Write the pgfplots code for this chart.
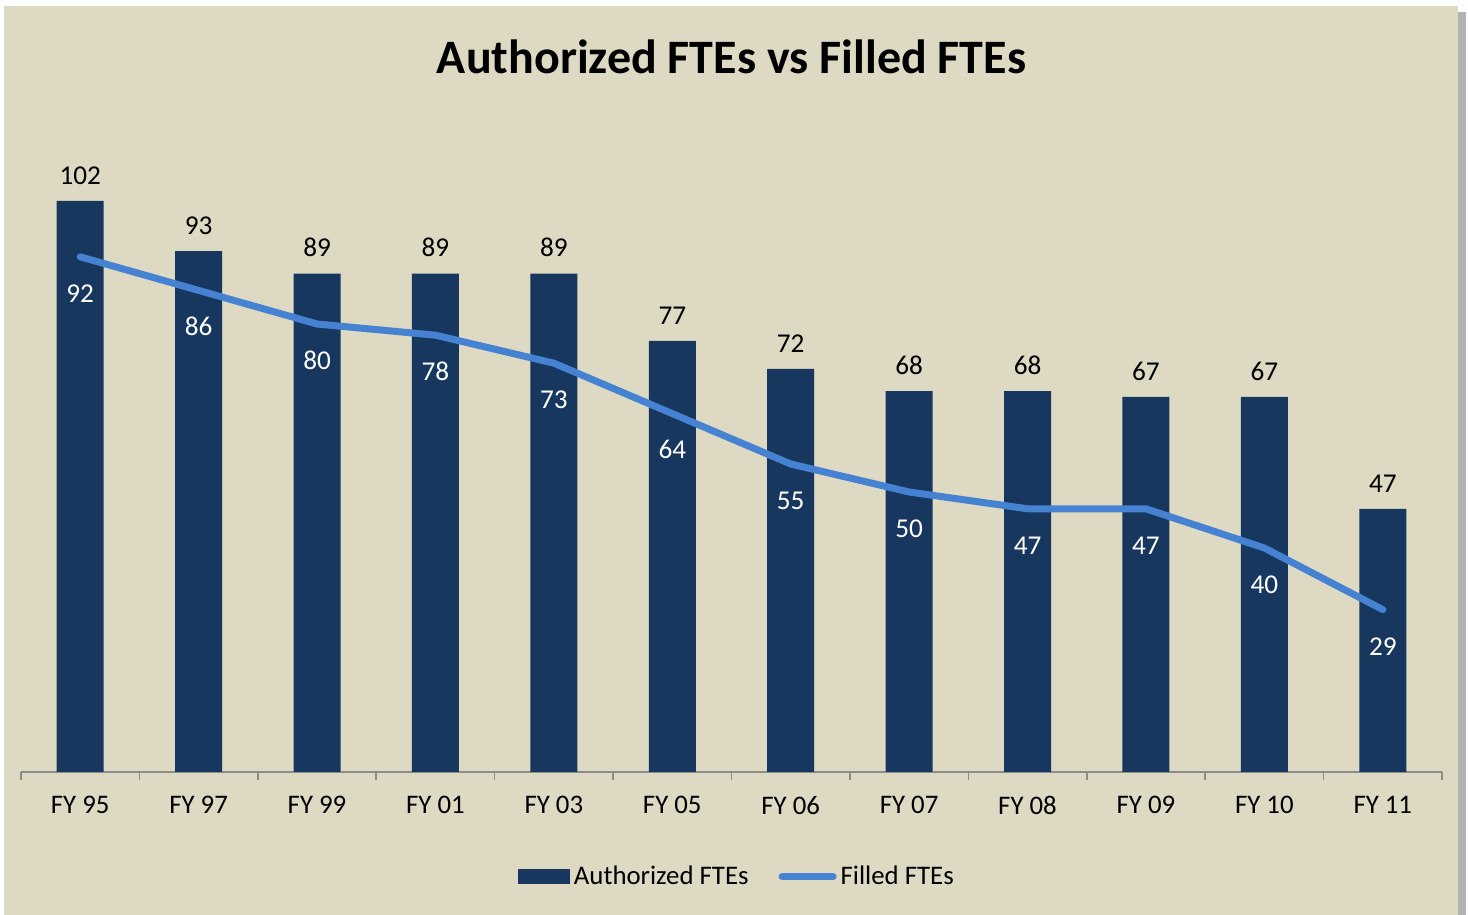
\documentclass[border=0pt]{standalone}
\usepackage{pgfplots}
\pgfplotsset{compat=1.18}
\usepackage{fontspec}
\setmainfont{Carlito}
\definecolor{bg}{RGB}{221,217,195}
\definecolor{navy}{RGB}{23,55,94}
\definecolor{lblue}{RGB}{70,130,210}
\begin{document}
\begin{tikzpicture}
\useasboundingbox (-10.5pt,-71.5pt) rectangle (723.5pt,386pt);
\fill[white] (-10.5pt,-71.5pt) rectangle (723.5pt,386pt);
\fill[black!30] (-6pt,-71.5pt) rectangle (722.5pt,380pt);
\fill[bg] (-8.5pt,-71.5pt) rectangle (718.5pt,383pt);
\node[font=\fontsize{24}{29}\selectfont\bfseries] at (355.25pt,357.5pt) {Authorized FTEs vs Filled FTEs};
\begin{axis}[
  at={(0pt,0pt)}, anchor=south west,
  scale only axis, width=710.5pt, height=308pt,
  xmin=-0.5, xmax=11.5, ymin=0, ymax=110,
  axis y line=none, axis x line*=bottom,
  axis line style={draw=black!45, line width=0.8pt},
  xtick={0,...,11},
  xticklabels={FY 95,FY 97,FY 99,FY 01,FY 03,FY 05,FY 06,FY 07,FY 08,FY 09,FY 10,FY 11},
  major tick length=0pt,
  minor xtick={-0.5,0.5,...,11.5}, minor tick length=4pt, tick align=outside,
  minor tick style={draw=black!45, line width=0.8pt},
  xticklabel style={font=\fontsize{13.4}{16}\selectfont, inner sep=0pt, yshift=-12pt},
  /pgf/number format/assume math mode=true,
  clip=false,
  legend columns=2,
  legend style={draw=none, fill=none, at={(0.5045,-0.17)}, anchor=center,
    font=\fontsize{13.4}{16}\selectfont,
    /tikz/every even column/.append style={column sep=13pt}},
]
\addplot[ybar, bar width=23.5pt, fill=navy, draw=none,
  nodes near coords,
  every node near coord/.append style={font=\fontsize{13.6}{16}\selectfont, text=black, inner sep=0pt, yshift=8pt},
  legend image code/.code={\fill[navy] (0pt,-3.75pt) rectangle (26pt,3.75pt);}]
  coordinates {(0,102) (1,93) (2,89) (3,89) (4,89) (5,77) (6,72) (7,68) (8,68) (9,67) (10,67) (11,47)};
\addlegendentry{Authorized FTEs}
\addplot[lblue, line width=3.5pt, line cap=round, line join=round, mark=none,
  nodes near coords,
  every node near coord/.append style={font=\fontsize{13.6}{16}\selectfont, text=white, inner sep=0pt, yshift=-24.5pt},
  legend image code/.code={\draw[lblue, line width=3.5pt, line cap=round] (1.75pt,0pt) -- (27.25pt,0pt);}]
  coordinates {(0,92) (1,86) (2,80) (3,78) (4,73) (5,64) (6,55) (7,50) (8,47) (9,47) (10,40) (11,29)};
\addlegendentry{Filled FTEs}
\end{axis}
\end{tikzpicture}
\end{document}
